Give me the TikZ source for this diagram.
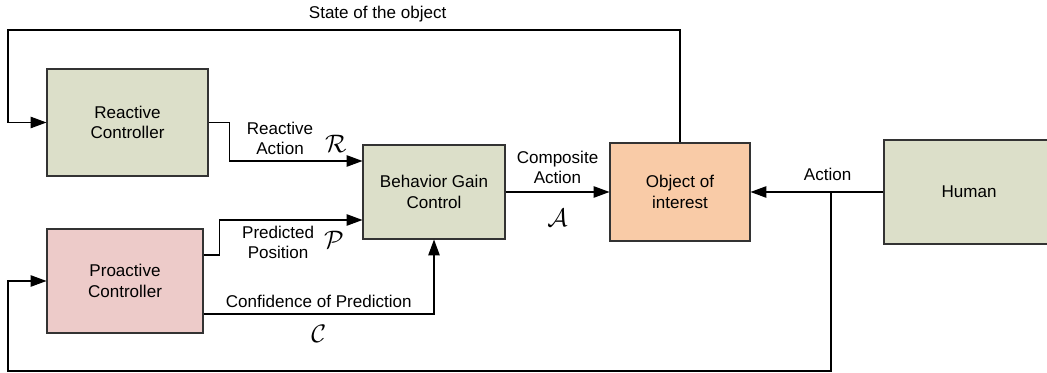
\documentclass[tikz,border=0pt]{standalone}
\usepackage{fontspec}
\setmainfont{Liberation Sans}
\usepackage{amsmath}
\usepackage{tikz}
\usetikzlibrary{arrows.meta}

\definecolor{olivebox}{HTML}{DCDFC9}
\definecolor{pinkbox}{HTML}{EDCBC9}
\definecolor{peachbox}{HTML}{F9CBA7}

\begin{document}
\begin{tikzpicture}[auto, line width=0.6pt, >={Triangle[length=9pt,width=6.5pt]},
                    main node/.style={rectangle,draw=black!80,align=center,
                                      font=\fontsize{9.7}{11.5}\selectfont},
                    sig label/.style={align=center,font=\fontsize{9.7}{11.5}\selectfont},
                    sym label/.style={font=\fontsize{15}{15}\selectfont}]
  \useasboundingbox (0,0) rectangle (20.94,-7.46);
  \node[main node,fill=olivebox,minimum width=3.22cm,minimum height=2.14cm] (react) at (2.55,-2.45) {Reactive\\Controller};
  \node[main node,fill=pinkbox,minimum width=3.12cm,minimum height=2.08cm] (proact) at (2.5,-5.62) {Proactive\\Controller};
  \node[main node,fill=olivebox,minimum width=2.84cm,minimum height=1.88cm] (bgc) at (8.68,-3.84) {Behavior Gain\\Control};
  \node[main node,fill=peachbox,minimum width=2.8cm,minimum height=1.96cm] (obj) at (13.6,-3.84) {Object of\\interest};
  \node[main node,fill=olivebox,minimum width=3.4cm,minimum height=2.08cm] (human) at (19.38,-3.84) {Human};
  \coordinate (stL) at (0.16,-0.6);
  \coordinate (jn) at (16.62,-3.84);
  \coordinate (fbL) at (0.16,-7.42);

  % feedback to the reactive side
  \draw[->] (obj.north) |- node[sig label,pos=0.725,above=1pt] {State of the object} (stL) |- (react.west);
  \draw[->] (react.east) -- ++(0.42,0)
    |- node[sig label,pos=0.69,above=0pt] {Reactive\\Action}
       node[sym label,pos=0.9,above=1pt] {$\mathcal{R}$} ([yshift=0.62cm]bgc.west);
  \draw[->] ([yshift=0.52cm]proact.east) -- ++(0.32,0)
    |- node[sig label,pos=0.705,below=0pt] {Predicted\\Position}
       node[sym label,pos=0.9,below=3pt] {$\mathcal{P}$} ([yshift=-0.56cm]bgc.west);
  \draw[->] ([yshift=-0.66cm]proact.east) -| node[sig label,pos=0.25,above=0pt] {Confidence of Prediction}
    node[sym label,pos=0.25,below=3pt] {$\mathcal{C}$} (bgc.south);
  \draw[->] (bgc.east) -- node[sig label,above=1pt] {Composite\\Action}
    node[sym label,below=6pt] {$\mathcal{A}$} (obj.west);
  \draw[->] (human.west) -- node[sig label,pos=0.42,above=3pt] {Action} (obj.east);
  % feedback to the proactive side
  \draw[->] (jn) |- (fbL) |- (proact.west);
\end{tikzpicture}
\end{document}
